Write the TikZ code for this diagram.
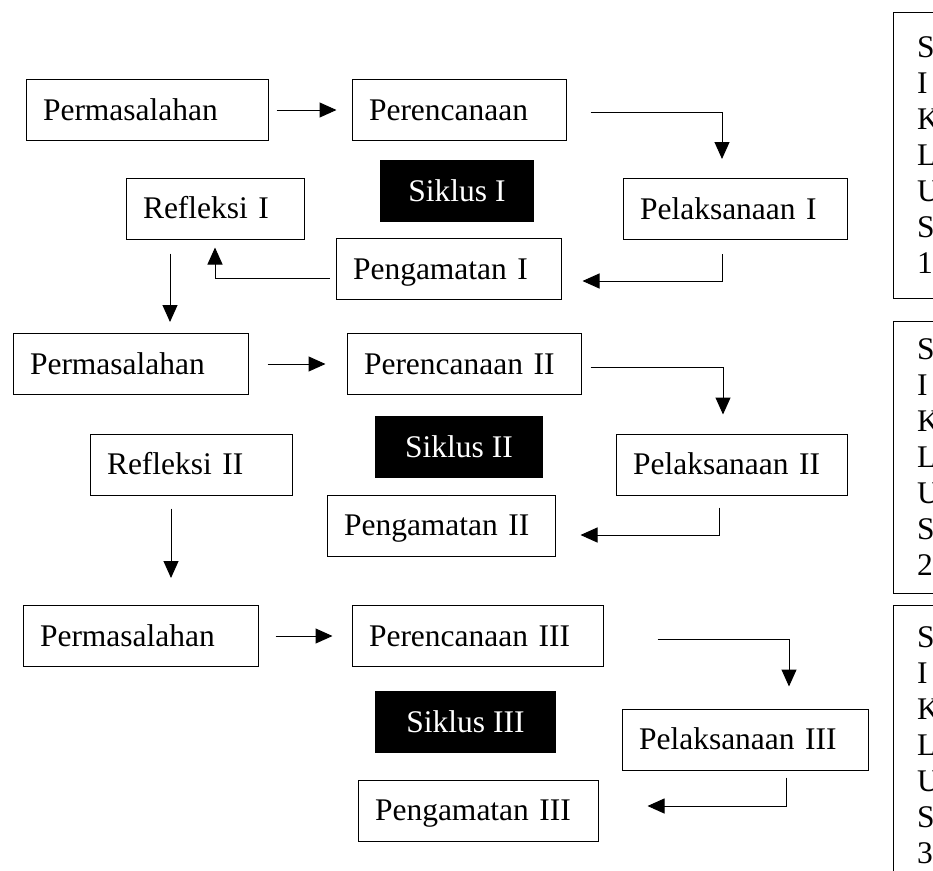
\documentclass[tikz,border=0pt]{standalone}
\usepackage{fontspec}
\setmainfont{Liberation Serif}
\usetikzlibrary{arrows.meta,positioning,calc}

\tikzset{
  box/.style={draw,line width=1pt,minimum height=61pt,align=left,
              inner xsep=17pt,text height=24pt,text depth=4pt,
              font=\fontsize{31.5}{36}\selectfont},
  tag/.style={fill=black,text=white,align=center,minimum height=62pt,
              text height=24pt,text depth=4pt,
              font=\fontsize{31.5}{36}\selectfont},
  strip/.style={draw,line width=1pt,anchor=north west,align=left,
                inner xsep=20pt,minimum width=70pt,
                font=\fontsize{31.5}{36}\selectfont},
  flow/.style={line width=1pt,-{Triangle[length=17pt,width=15pt]}}
}

\begin{document}
\begin{tikzpicture}[x=1pt,y=-1pt]
  \useasboundingbox (0,0) rectangle (933,870);

  % Siklus I
  \node[box,text width=208pt] (perm1) at (147,110) {Permasalahan};
  \node[box,text width=180pt] (renc1) at (459,110) {Perencanaan};
  \node[tag,minimum width=154pt] (sik1) at (457,191) {Siklus I};
  \node[box,text width=190pt] (laks1) at (735,209) {Pelaksanaan I};
  \node[box,text width=144pt] (refl1) at (215,208.5) {Refleksi I};
  \node[box,text width=191pt] (amat1) at (448.5,269) {Pengamatan I};

  \draw[flow,shorten <=8pt,shorten >=15pt] (perm1.east) -- (renc1.west);
  \draw[flow] ([xshift=24pt,yshift=-2pt]renc1.east)
    -| ([xshift=-13pt,yshift=19pt]laks1.north);
  \draw[flow] ([xshift=-13pt,yshift=-14pt]laks1.south)
    |- ([xshift=21pt,yshift=-12pt]amat1.east);
  \draw[flow] ([xshift=-6pt,yshift=-9pt]amat1.west)
    -| ([yshift=-8pt]refl1.south);

  % Siklus II
  \node[box,text width=201pt] (perm2) at (130.5,364) {Permasalahan};
  \node[box,text width=200pt] (renc2) at (464,364) {Perencanaan II};
  \node[tag,minimum width=168pt] (sik2) at (459,447) {Siklus II};
  \node[box,text width=197pt] (laks2) at (731.5,464.5) {Pelaksanaan II};
  \node[box,text width=168pt] (refl2) at (191,464.5) {Refleksi II};
  \node[box,text width=194pt] (amat2) at (441,525.5) {Pengamatan II};

  \draw[flow,shorten <=14pt,shorten >=11pt]
    ([xshift=-45pt]refl1.south) -- ([xshift=39.5pt]perm2.north);
  \draw[flow,shorten <=19pt,shorten >=21pt] (perm2.east) -- (renc2.west);
  \draw[flow] ([xshift=9pt,yshift=-3pt]renc2.east)
    -| ([xshift=-8.5pt,yshift=19pt]laks2.north);
  \draw[flow] ([xshift=-12.5pt,yshift=-12pt]laks2.south)
    |- ([xshift=25pt,yshift=-9.5pt]amat2.east);

  % Siklus III
  \node[box,text width=201pt] (perm3) at (140.5,636) {Permasalahan};
  \node[box,text width=217pt] (renc3) at (477.5,636) {Perencanaan III};
  \node[tag,minimum width=181pt] (sik3) at (465.5,722) {Siklus III};
  \node[box,text width=212pt] (laks3) at (745,739.5) {Pelaksanaan III};
  \node[box,text width=206pt] (amat3) at (478,810.5) {Pengamatan III};

  \draw[flow,shorten <=13pt,shorten >=27pt]
    ([xshift=-20pt]refl2.south) -- ([xshift=30.5pt]perm3.north);
  \draw[flow,shorten <=17pt,shorten >=19pt] (perm3.east) -- (renc3.west);
  \draw[flow] ([xshift=54pt,yshift=-3pt]renc3.east)
    -| ([xshift=44pt,yshift=22pt]laks3.north);
  \draw[flow] ([xshift=41pt,yshift=-7pt]laks3.south)
    |- ([xshift=49pt,yshift=4.5pt]amat3.east);

  % right column
  \node[strip,minimum height=286pt] (col1) at (893,12) {S\\I\\K\\L\\U\\S\\1};
  \node[strip,minimum height=272pt] (col2) at (893,321) {S\\I\\K\\L\\U\\S\\2};
  \node[strip,minimum height=280pt] (col3) at (893,605) {S\\I\\K\\L\\U\\S\\3};
\end{tikzpicture}
\end{document}
